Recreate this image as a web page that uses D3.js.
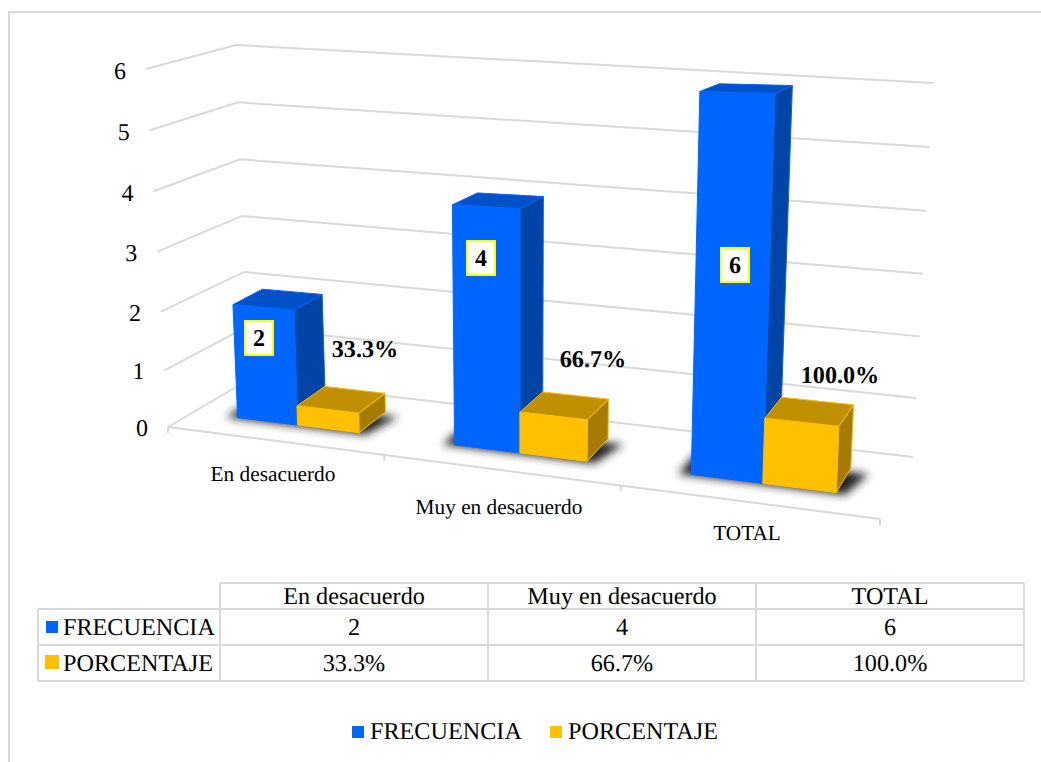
<!DOCTYPE html>
<html>
<head>
<meta charset="utf-8">
<script src="https://cdn.jsdelivr.net/npm/d3@7"></script>
<style>
  html, body { margin: 0; padding: 0; background: #fff; }
  text { font-family: "Liberation Serif", serif; fill: #000; text-rendering: geometricPrecision; }
</style>
</head>
<body>
<script>
var categories = ['En desacuerdo', 'Muy en desacuerdo', 'TOTAL'];
var seriesNames = ['FRECUENCIA', 'PORCENTAJE'];
var frecuencia = [2, 4, 6];
var porcentaje = [0.333, 0.667, 1];
var porcentajeLabels = ['33.3%', '66.7%', '100.0%'];
var yTicks = [0, 1, 2, 3, 4, 5, 6];

var width = 1041, height = 762;
var grey = '#D9D9D9';
var colors = {
  FRECUENCIA: {front: '#0066FF', top: '#0050C8', side: '#0044A6'},
  PORCENTAJE: {front: '#FFC000', top: '#C09000', side: '#A67C00'}
};

var svg = d3.select('body').append('svg')
    .attr('width', width)
    .attr('height', height)
    .style('display', 'block');

var defs = svg.append('defs');
defs.append('filter').attr('id', 'blur')
    .attr('x', '-30%').attr('y', '-60%').attr('width', '160%').attr('height', '220%')
  .append('feGaussianBlur').attr('stdDeviation', 4);

// chart frame
svg.append('path')
    .attr('d', 'M 9 762 V 12 H 1041')
    .attr('fill', 'none')
    .attr('stroke', grey)
    .attr('stroke-width', 2);

// maps the unit square onto a quad, order is front-left, front-right, back-right, back-left
function quadMap(q) {
  var dx1 = q[1][0] - q[2][0], dx2 = q[3][0] - q[2][0], sx = q[0][0] - q[1][0] + q[2][0] - q[3][0];
  var dy1 = q[1][1] - q[2][1], dy2 = q[3][1] - q[2][1], sy = q[0][1] - q[1][1] + q[2][1] - q[3][1];
  var den = dx1 * dy2 - dx2 * dy1;
  var g = (sx * dy2 - dx2 * sy) / den;
  var h = (dx1 * sy - sx * dy1) / den;
  var a = q[1][0] - q[0][0] + g * q[1][0], b = q[3][0] - q[0][0] + h * q[3][0];
  var d = q[1][1] - q[0][1] + g * q[1][1], e = q[3][1] - q[0][1] + h * q[3][1];
  return function(u, v) {
    var w = g * u + h * v + 1;
    return [(a * u + b * v + q[0][0]) / w, (d * u + e * v + q[0][1]) / w];
  };
}

var floorMap = quadMap([[168, 427], [880, 519], [913, 457], [243, 378.3]]);

var yScale = d3.scaleLinear().domain([0, 6]).range([0, 1]);
// gridlines bunch up slightly towards the floor
var wallScale = d3.scalePow().exponent(1.03).domain([0, 6]).range([0, 1]);
var bandScale = d3.scaleBand().domain(categories).range([0.003, 1.003]).paddingInner(0.43).paddingOuter(0.215);
var seriesScale = d3.scaleBand().domain(seriesNames).range([0, bandScale.bandwidth()]);
var depthScale = d3.scaleLinear().domain([0, 1]).range([0.3, 0.7]);

// a point on the floor lifted up by a value, verticals lean away from x=520
function project(u, v, value) {
  var f = floorMap(u, v), t = yScale(value);
  var liftX = 0.05 * (f[0] - 520);
  var liftY = -0.0128 * f[0] - 0.677 * f[1] - 52.9;
  return [f[0] + liftX * t, f[1] + liftY * t];
}

var line = d3.line();
function poly(pts) { return line(pts) + 'Z'; }

// wall corners at value 6 and 0, the walls do not quite follow the bars' lift
var wallTops = [[146, 69], [236, 45], [933, 83]];
var wallBottoms = [[168, 427], [248, 380], [913, 457]];
function wallPoint(i, value) {
  var t = wallScale(value);
  return [wallBottoms[i][0] + (wallTops[i][0] - wallBottoms[i][0]) * t,
          wallBottoms[i][1] + (wallTops[i][1] - wallBottoms[i][1]) * t];
}

// gridlines on the two walls
svg.selectAll('.grid').data(yTicks).enter().append('path')
    .attr('class', 'grid')
    .attr('d', function(d) { return line([wallPoint(0, d), wallPoint(1, d), wallPoint(2, d)]); })
    .attr('fill', 'none')
    .attr('stroke', grey)
    .attr('stroke-width', 2);

// floor front edge and its ticks
svg.append('path')
    .attr('d', line([floorMap(0, 0), floorMap(1, 0)]))
    .attr('fill', 'none')
    .attr('stroke', grey)
    .attr('stroke-width', 2);

svg.selectAll('.xtick').data([0, 1, 2, 3]).enter().append('path')
    .attr('class', 'xtick')
    .attr('d', function(d) {
      var p = floorMap(d / 3, 0);
      return line([p, [p[0], p[1] + 6]]);
    })
    .attr('fill', 'none')
    .attr('stroke', grey)
    .attr('stroke-width', 2);

svg.selectAll('.ylabel').data(yTicks).enter().append('text')
    .attr('class', 'ylabel')
    .attr('x', function(d) { return wallPoint(0, d)[0] - 26; })
    .attr('y', function(d) { return wallPoint(0, d)[1] + 8.5 + d * 0.25; })
    .attr('text-anchor', 'middle')
    .attr('font-size', 24)
    .text(function(d) { return d; });

// category labels sit where the original put them
var xLabelSpots = [[273, 481], [499, 514], [747, 540]];
svg.selectAll('.xlabel').data(categories).enter().append('text')
    .attr('class', 'xlabel')
    .attr('x', function(d, i) { return xLabelSpots[i][0]; })
    .attr('y', function(d, i) { return xLabelSpots[i][1]; })
    .attr('text-anchor', 'middle')
    .attr('font-size', 21.3)
    .text(function(d) { return d; });

// one box, drawn back faces first
function drawBox(g, u0, u1, value, c) {
  var v0 = depthScale(0), v1 = depthScale(1);
  g.append('path').attr('d', poly([project(u1, v0, 0), project(u1, v1, 0), project(u1, v1, value), project(u1, v0, value)]))
      .attr('fill', c.side).attr('stroke', c.front).attr('stroke-width', 1);
  g.append('path').attr('d', poly([project(u0, v0, value), project(u1, v0, value), project(u1, v1, value), project(u0, v1, value)]))
      .attr('fill', c.top).attr('stroke', c.front).attr('stroke-width', 1);
  g.append('path').attr('d', poly([project(u0, v0, 0), project(u1, v0, 0), project(u1, v0, value), project(u0, v0, value)]))
      .attr('fill', c.front).attr('stroke', c.front).attr('stroke-width', 1);
}

var groups = svg.selectAll('.cat').data(categories).enter().append('g').attr('class', 'cat');

groups.each(function(cat, i) {
  var g = d3.select(this);
  var start = bandScale(cat), w = seriesScale.bandwidth();
  // soft shadow on the floor
  g.append('path')
      .attr('d', poly([
        floorMap(start - 0.016, depthScale(0) - 0.02),
        floorMap(start + 2 * w + 0.012, depthScale(0) - 0.02),
        floorMap(start + 2 * w + 0.026, depthScale(1) - 0.06),
        floorMap(start - 0.016, depthScale(1) - 0.06)
      ]))
      .attr('fill', '#222')
      .attr('filter', 'url(#blur)');
  drawBox(g, start + seriesScale('FRECUENCIA'), start + seriesScale('FRECUENCIA') + w, frecuencia[i], colors.FRECUENCIA);
  drawBox(g, start + seriesScale('PORCENTAJE'), start + seriesScale('PORCENTAJE') + w, porcentaje[i], colors.PORCENTAJE);
});

// data labels were dragged by hand in the original, so they get their own spots
var boxSpots = [[259, 338], [481, 258], [735, 265]];
var pctSpots = [[365, 349], [593, 359], [840, 375]];

svg.selectAll('.boxlabel').data(frecuencia).enter().append('rect')
    .attr('class', 'boxlabel')
    .attr('x', function(d, i) { return boxSpots[i][0] - 14; })
    .attr('y', function(d, i) { return boxSpots[i][1] - 17; })
    .attr('width', 28)
    .attr('height', 34)
    .attr('fill', '#fff')
    .attr('stroke', '#FFFF00')
    .attr('stroke-width', 2);

svg.selectAll('.boxtext').data(frecuencia).enter().append('text')
    .attr('class', 'boxtext')
    .attr('x', function(d, i) { return boxSpots[i][0]; })
    .attr('y', function(d, i) { return boxSpots[i][1] + 8; })
    .attr('text-anchor', 'middle')
    .attr('font-size', 24)
    .attr('font-weight', 'bold')
    .text(function(d) { return d; });

svg.selectAll('.pcttext').data(porcentajeLabels).enter().append('text')
    .attr('class', 'pcttext')
    .attr('x', function(d, i) { return pctSpots[i][0]; })
    .attr('y', function(d, i) { return pctSpots[i][1] + 8; })
    .attr('text-anchor', 'middle')
    .attr('font-size', 24.2)
    .attr('font-weight', 'bold')
    .text(function(d) { return d; });

// data table
var colScale = d3.scaleBand().domain(categories).range([220, 1024]);
var rowY = [583, 609, 645, 681];
var tableLines = [
  [[220, rowY[0]], [1024, rowY[0]]],
  [[38, rowY[1]], [1024, rowY[1]]],
  [[38, rowY[2]], [1024, rowY[2]]],
  [[38, rowY[3]], [1024, rowY[3]]],
  [[38, rowY[1]], [38, rowY[3]]],
  [[220, rowY[0]], [220, rowY[3]]]
];
categories.forEach(function(c) {
  var x = colScale(c) + colScale.bandwidth();
  tableLines.push([[x, rowY[0]], [x, rowY[3]]]);
});
svg.selectAll('.tline').data(tableLines).enter().append('path')
    .attr('class', 'tline')
    .attr('d', function(d) { return line(d); })
    .attr('fill', 'none')
    .attr('stroke', grey)
    .attr('stroke-width', 2);

function tableText(x, y, t, anchor) {
  svg.append('text')
      .attr('x', x)
      .attr('y', y)
      .attr('text-anchor', anchor || 'middle')
      .attr('font-size', 24.2)
      .text(t);
}

categories.forEach(function(c, i) {
  var cx = colScale(c) + colScale.bandwidth() / 2;
  tableText(cx, 604, c);
  tableText(cx, 635, frecuencia[i]);
  tableText(cx, 671, porcentajeLabels[i]);
});

seriesNames.forEach(function(s, i) {
  var y = [635, 671][i];
  tableText(63, y, s, 'start');
  svg.append('rect')
      .attr('x', i ? 45 : 46).attr('y', i ? 655 : 621)
      .attr('width', i ? 14 : 12).attr('height', i ? 14 : 12)
      .attr('fill', colors[s].front);
});

// legend
var legendX = [352, 550];
seriesNames.forEach(function(s, i) {
  svg.append('rect')
      .attr('x', legendX[i]).attr('y', 726)
      .attr('width', 12).attr('height', 12)
      .attr('fill', colors[s].front);
  tableText(legendX[i] + 18, 739, s, 'start');
});
</script>
</body>
</html>
